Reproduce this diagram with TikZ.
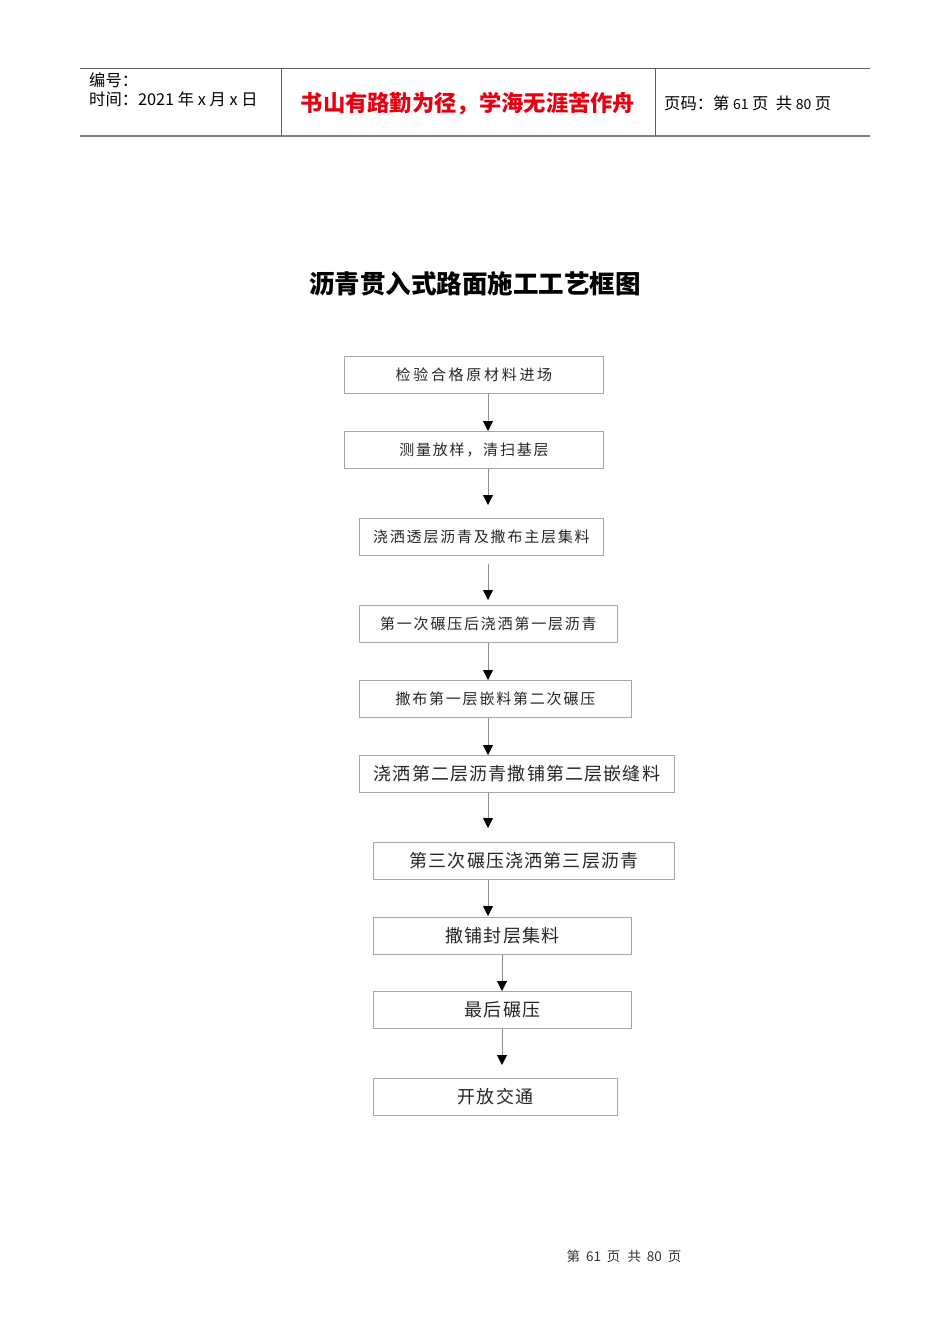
\documentclass[tikz,border=0pt]{standalone}
\usepackage{fontspec}
\setmainfont{Noto Sans CJK SC}
\newfontfamily\cjk{Noto Sans CJK SC}
\newfontfamily\cjkspaced[LetterSpace=12]{Noto Sans CJK SC}
\newfontfamily\cjkwide[LetterSpace=18]{Noto Sans CJK SC}
\newfontfamily\cjkbig[LetterSpace=6.5]{Noto Sans CJK SC}
\usetikzlibrary{arrows.meta}
\definecolor{boxgray}{HTML}{A6A6A6}
\definecolor{linegray}{HTML}{8C8C8C}
\definecolor{rulegray}{HTML}{606060}
\definecolor{mottored}{HTML}{E60012}
\tikzset{
  stepbox/.style={draw=boxgray, line width=0.9pt, rectangle, inner sep=0pt, anchor=north west},
  smalltext/.style={font=\cjkspaced\fontsize{15}{18}\selectfont, text=black!85},
  widetext/.style={font=\cjkwide\fontsize{15}{18}\selectfont, text=black!85},
  bigtext/.style={font=\cjkbig\fontsize{18}{22}\selectfont, text=black!85},
  conn/.style={draw=linegray, line width=0.8pt, -{Triangle[width=10pt,length=10pt,color=black]}},
  hdr/.style={font=\cjk\fontsize{16.3}{19}\selectfont, anchor=west, inner sep=0pt},
}
\begin{document}
\begin{tikzpicture}[x=1pt,y=-1pt]
\useasboundingbox (0,0) rectangle (950,1344);
% header
\draw[rulegray, line width=0.8pt] (80,68) -- (870,68);
\draw[rulegray!80, line width=1.8pt] (80,136) -- (870,136);
\draw[rulegray, line width=0.8pt] (281,68) -- (281,136);
\draw[rulegray, line width=0.8pt] (655,68) -- (655,136);
\node[hdr] (hno) at (89,80) {编号：};
\node[hdr] (hdate) at (89,99) {时间：2021 年 x 月 x 日};
\node[font=\cjk\bfseries\fontsize{22.3}{26}\selectfont, text=mottored, inner sep=0pt] (motto) at (468,104) {书山有路勤为径，学海无涯苦作舟};
\node[hdr] (hpage) at (664,103) {页码：第 {\fontsize{14}{16}\selectfont 61} 页\ \ 共 {\fontsize{14}{16}\selectfont 80} 页};
% title
\node[font=\cjk\bfseries\fontsize{25.5}{29}\selectfont, inner sep=0pt] (title) at (475,284) {沥青贯入式路面施工工艺框图};
% boxes
\node[stepbox, minimum width=259pt, minimum height=37pt, widetext] (b1) at (344,356) {检验合格原材料进场};
\node[stepbox, minimum width=259pt, minimum height=37pt, smalltext] (b2) at (344,431) {测量放样，清扫基层};
\node[stepbox, minimum width=244pt, minimum height=37pt, smalltext] (b3) at (359,518) {浇洒透层沥青及撒布主层集料};
\node[stepbox, minimum width=258pt, minimum height=37pt, smalltext] (b4) at (359,605) {第一次碾压后浇洒第一层沥青};
\node[stepbox, minimum width=272pt, minimum height=37pt, smalltext] (b5) at (359,680) {撒布第一层嵌料第二次碾压};
\node[stepbox, minimum width=315pt, minimum height=37pt, bigtext] (b6) at (359,755) {浇洒第二层沥青撒铺第二层嵌缝料};
\node[stepbox, minimum width=301pt, minimum height=37pt, bigtext] (b7) at (373,842) {第三次碾压浇洒第三层沥青};
\node[stepbox, minimum width=258pt, minimum height=37pt, bigtext] (b8) at (373,917) {撒铺封层集料};
\node[stepbox, minimum width=258pt, minimum height=37pt, bigtext] (b9) at (373,991) {最后碾压};
\node[stepbox, minimum width=244pt, minimum height=37pt, bigtext] (b10) at (373,1078) {开放交通};
% connector columns
\coordinate (colA) at (488,0);
\coordinate (colB) at (502,0);
\draw[conn] (b1.south -| colA) -- (b2.north -| colA);
\draw[conn, shorten >=13pt] (b2.south -| colA) -- (b3.north -| colA);
\draw[conn, shorten <=8pt, shorten >=5pt] (b3.south -| colA) -- (b4.north -| colA);
\draw[conn] (b4.south -| colA) -- (b5.north -| colA);
\draw[conn] (b5.south -| colA) -- (b6.north -| colA);
\draw[conn, shorten >=14pt] (b6.south -| colA) -- (b7.north -| colA);
\draw[conn, shorten >=1pt] (b7.south -| colA) -- (b8.north -| colA);
\draw[conn] (b8.south -| colB) -- (b9.north -| colB);
\draw[conn, shorten >=13pt] (b9.south -| colB) -- (b10.north -| colB);
% footer
\node[font=\cjk\fontsize{13.5}{16}\selectfont, inner sep=0pt, text=black!80] (foot) at (624,1256) {第\hspace{6pt}61\hspace{6pt}页\hspace{7pt}共\hspace{6pt}80\hspace{6pt}页};
\end{tikzpicture}
\end{document}
